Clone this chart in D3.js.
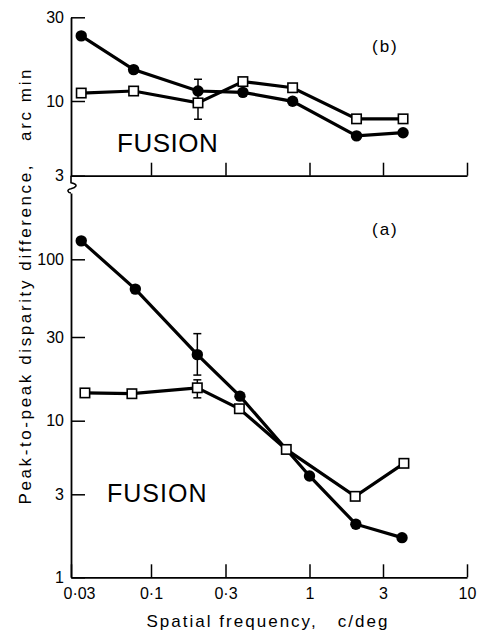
<!DOCTYPE html>
<html lang="en">
<head>
<meta charset="UTF-8">
<title>Fusion disparity vs spatial frequency</title>
<script src="https://d3js.org/d3.v7.min.js"></script>
<style>
  body { margin: 0; background: #fff; }
  svg text { font-family: "Liberation Sans", Arial, sans-serif; fill: #000; }
</style>
</head>
<body>
<div id="chart"></div>
<script>
// ---- data ----
// panel (b), top
const freqB = [0.035, 0.077, 0.2, 0.385, 0.785, 2.02, 4.0];
const bFilled = [23.5, 15.1, 11.4, 11.2, 9.95, 5.7, 6.0];
const bOpen = [11.1, 11.4, 9.7, 12.9, 11.9, 7.5, 7.5];
const bErr = [{ f: 0.2, lo: 7.45, hi: 13.3 }];

// panel (a), bottom
const freqAFilled = [0.035, 0.079, 0.198, 0.369, 1.0, 2.0, 3.94];
const aFilled = [129, 63, 23.8, 13.8, 4.05, 2.02, 1.69];
const freqAOpen = [0.037, 0.075, 0.198, 0.366, 0.717, 1.98, 4.05];
const aOpen = [14.4, 14.25, 15.4, 11.7, 6.25, 2.92, 4.98];
const aErr = [{ f: 0.198, lo: 18.2, hi: 31.6 }, { f: 0.198, lo: 13.5, hi: 17.1 }];

// ticks
const xTickVals = [0.03, 0.1, 0.3, 1, 3, 10];
const xTickLabels = ["0·03", "0·1", "0·3", "1", "3", "10"];
const yTicksB = [3, 10, 30];
const yTicksA = [1, 3, 10, 30, 100];

const width = 477, height = 631;

const svg = d3.select("#chart").append("svg")
    .attr("width", width)
    .attr("height", height);

// scales (the printed grid is not perfectly even, so piecewise log)
const x = d3.scaleLog()
    .domain([0.03, 0.1, 0.3, 1, 3, 10])
    .range([71, 151, 225.5, 309.5, 383, 467]);

const yB = d3.scaleLog()
    .domain([3, 10, 30])
    .range([175.7, 101, 17.3]);

const yA = d3.scaleLog()
    .domain([1, 3, 10, 30, 100, 250])
    .range([577.3, 494.3, 420.7, 337, 259.3, 193]);

function styleAxis(g) {
    g.attr("font-family", null).attr("font-size", null);
    g.select(".domain").attr("stroke", "#000").attr("stroke-width", 1.8);
    g.selectAll(".tick line").attr("stroke", "#000").attr("stroke-width", 1.5);
    g.selectAll(".tick text").style("font-size", "16px");
}

// ---- axes ----
// top panel
svg.append("g")
    .attr("transform", "translate(" + x(0.03) + ",0)")
    .call(d3.axisLeft(yB).tickValues(yTicksB).tickFormat(d3.format("d"))
        .tickSizeInner(-14).tickSizeOuter(0).tickPadding(7))
    .call(styleAxis);

svg.append("g")
    .attr("transform", "translate(0," + yB(3) + ")")
    .call(d3.axisBottom(x).tickValues(xTickVals.slice(1)).tickFormat("")
        .tickSizeInner(-13).tickSizeOuter(0))
    .call(styleAxis);

// bottom panel
svg.append("g")
    .attr("transform", "translate(" + x(0.03) + ",0)")
    .call(d3.axisLeft(yA).tickValues(yTicksA).tickFormat(d3.format("d"))
        .tickSizeInner(-14).tickSizeOuter(0).tickPadding(7))
    .call(styleAxis);

const xAxisA = svg.append("g")
    .attr("transform", "translate(0," + yA(1) + ")")
    .call(d3.axisBottom(x).tickValues(xTickVals)
        .tickFormat((d, i) => xTickLabels[i])
        .tickSizeInner(-13).tickSizeOuter(0).tickPadding(10))
    .call(styleAxis);
xAxisA.selectAll(".tick text").filter(d => d === 0.03).attr("dx", 8);

// axis break between the panels
const x0 = x(0.03), yb = yB(3);
svg.append("path")
    .attr("d", `M${x0},${yb} L${x0},${yb + 7} C${x0 + 9},${yb + 9} ${x0 + 4},${yb + 12} ${x0},${yb + 13} C${x0 - 5},${yb + 14} ${x0 - 3},${yb + 17} ${x0},${yA(250)}`)
    .attr("fill", "none")
    .attr("stroke", "#000")
    .attr("stroke-width", 1.6);

// ---- series ----
function drawPanel(y, fFilled, vFilled, fOpen, vOpen, errs) {
    const line = d3.line().x(d => x(d.f)).y(d => y(d.v));
    const filled = fFilled.map((f, i) => ({ f: f, v: vFilled[i] }));
    const open = fOpen.map((f, i) => ({ f: f, v: vOpen[i] }));

    // error bars
    errs.forEach(e => {
        const g = svg.append("g").attr("stroke", "#000").attr("stroke-width", 1.5);
        g.append("line").attr("x1", x(e.f)).attr("x2", x(e.f)).attr("y1", y(e.lo)).attr("y2", y(e.hi));
        g.append("line").attr("x1", x(e.f) - 4).attr("x2", x(e.f) + 4).attr("y1", y(e.lo)).attr("y2", y(e.lo));
        g.append("line").attr("x1", x(e.f) - 4).attr("x2", x(e.f) + 4).attr("y1", y(e.hi)).attr("y2", y(e.hi));
    });

    svg.append("path").datum(filled).attr("d", line)
        .attr("fill", "none").attr("stroke", "#000").attr("stroke-width", 3.2);
    svg.append("path").datum(open).attr("d", line)
        .attr("fill", "none").attr("stroke", "#000").attr("stroke-width", 3.2);

    svg.append("g").selectAll("circle").data(filled).join("circle")
        .attr("cx", d => x(d.f)).attr("cy", d => y(d.v)).attr("r", 5.7)
        .attr("fill", "#000");

    svg.append("g").selectAll("rect").data(open).join("rect")
        .attr("x", d => x(d.f) - 4.7).attr("y", d => y(d.v) - 4.7)
        .attr("width", 9.4).attr("height", 9.4)
        .attr("fill", "#fff").attr("stroke", "#000").attr("stroke-width", 1.6);
}

drawPanel(yB, freqB, bFilled, freqB, bOpen, bErr);
drawPanel(yA, freqAFilled, aFilled, freqAOpen, aOpen, aErr);

// ---- labels ----
svg.append("text").attr("x", 117).attr("y", 152)
    .style("font-size", "26px").style("letter-spacing", "0.5px").text("FUSION");
svg.append("text").attr("x", 107).attr("y", 502)
    .style("font-size", "25px").style("letter-spacing", "1px").text("FUSION");

svg.append("text").attr("x", 372).attr("y", 52)
    .style("font-size", "17px").style("letter-spacing", "2px").text("(b)");
svg.append("text").attr("x", 372).attr("y", 235)
    .style("font-size", "17px").style("letter-spacing", "2px").text("(a)");

svg.append("text")
    .attr("transform", "translate(31,287) rotate(-90)")
    .attr("text-anchor", "middle")
    .attr("textLength", 435).attr("lengthAdjust", "spacing")
    .style("font-size", "17px").style("white-space", "pre")
    .text("Peak-to-peak disparity difference,   arc min");

svg.append("text")
    .attr("x", 267).attr("y", 627)
    .attr("text-anchor", "middle")
    .attr("textLength", 241).attr("lengthAdjust", "spacing")
    .style("font-size", "17px").style("white-space", "pre")
    .text("Spatial frequency,   c/deg");
</script>
</body>
</html>
